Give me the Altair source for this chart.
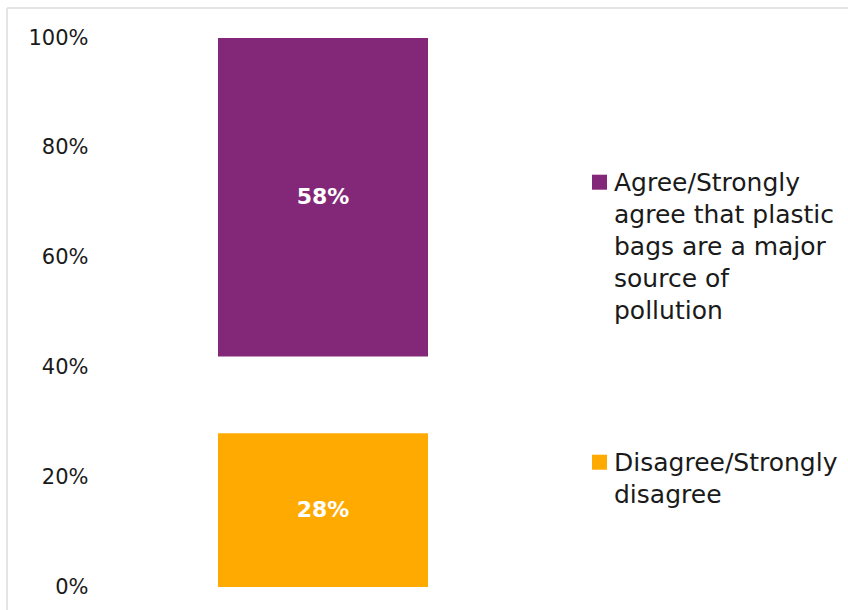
import altair as alt
import pandas as pd

# ---- data ----
categories = [
    "Disagree/Strongly disagree",
    "Neither/Don't know",
    "Agree/Strongly agree that plastic bags are a major source of pollution",
]
values = [28, 14, 58]          # percent, stacked bottom -> top
shown = [True, False, True]    # middle segment is not drawn
order = [0, 1, 2]

agree_lines = ["Agree/Strongly", "agree that plastic", "bags are a major", "source of", "pollution"]
disagree_lines = ["Disagree/Strongly", "disagree"]

tick_values = [0, 20, 40, 60, 80, 100]

PURPLE = "#832878"
ORANGE = "#FFAA00"
FONT = "DejaVu Sans"
TEXT = "#1a1a1a"

df = pd.DataFrame({
    "group": ["All"] * len(categories),
    "category": categories,
    "value": values,
    "order": order,
    "shown": shown,
})

def js_list(lines):
    return "[" + ", ".join("'" + l.replace("'", "\\'") + "'" for l in lines) + "]"

label_expr = (
    f"datum.value == '{categories[0]}' ? {js_list(disagree_lines)} : {js_list(agree_lines)}"
)

# square legend swatch, shifted down so it lines up with the first text line
SWATCH = "M-1,0.56H1V2.56H-1Z"

base = (
    alt.Chart(df)
    .transform_stack(stack="value", groupby=["group"], as_=["v0", "v1"],
                     sort=[alt.SortField("order", order="ascending")])
    .transform_filter("datum.shown")
)

bars = base.mark_bar(width=210).encode(
    x=alt.X("group:N", axis=None),
    y=alt.Y(
        "v0:Q",
        scale=alt.Scale(domain=[0, 100]),
        axis=alt.Axis(
            values=tick_values,
            labelExpr="datum.value + '%'",
            title=None,
            domain=False,
            ticks=False,
            grid=False,
            labelFont=FONT,
            labelFontSize=21,
            labelColor=TEXT,
            labelPadding=12,
        ),
    ),
    y2="v1:Q",
    color=alt.Color(
        "category:N",
        scale=alt.Scale(domain=[categories[2], categories[0]], range=[PURPLE, ORANGE]),
        legend=alt.Legend(
            title=None,
            orient="none",
            legendX=487,
            legendY=120,
            symbolType=SWATCH,
            symbolSize=225,
            symbolStrokeWidth=0,
            symbolOpacity=1,
            labelFont=FONT,
            labelFontSize=25,
            labelBaseline="top",
            labelOffset=2,
            labelColor=TEXT,
            labelLimit=400,
            labelExpr=label_expr,
            rowPadding=114,
            padding=0,
        ),
    ),
)

labels = base.transform_calculate(
    mid="(datum.v0 + datum.v1) / 2",
    txt="datum.value + '%'",
).mark_text(color="white", font=FONT, fontWeight="bold", fontSize=22).encode(
    x=alt.X("group:N", axis=None),
    y=alt.Y("mid:Q"),
    text="txt:N",
)

frame_df = pd.DataFrame({"d": [0]})
frame_top = alt.Chart(frame_df).mark_rule(color="#dcdcdc", strokeWidth=1.5).encode(
    x=alt.value(-93), x2=alt.value(800), y=alt.value(-30)
)
frame_left = alt.Chart(frame_df).mark_rule(color="#dcdcdc", strokeWidth=1.5).encode(
    x=alt.value(-93), y=alt.value(-30), y2=alt.value(700)
)

chart = (
    alt.layer(frame_top, frame_left, bars, labels)
    .properties(
        width=446,
        height=549,
        autosize=alt.AutoSizeParams(type="none"),
        padding={"left": 100, "top": 38, "right": 302, "bottom": 23},
        background="white",
    )
    .configure(
        view={"stroke": None},
        style={"guide-label": {"lineHeight": 32}},
    )
)

chart.save("out.html", embed_options={"renderer": "svg", "actions": False})
